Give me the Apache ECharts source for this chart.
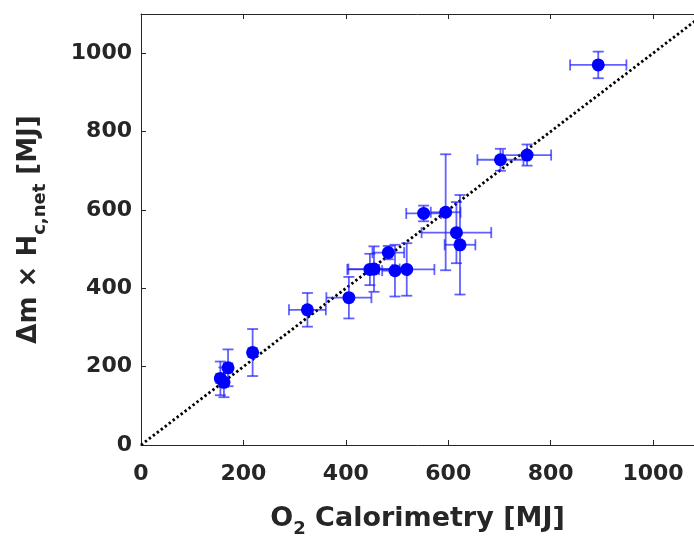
<!DOCTYPE html>
<html><head><meta charset="utf-8">
<script src="https://cdn.jsdelivr.net/npm/echarts@6/dist/echarts.min.js"></script>
<style>html,body{margin:0;padding:0;background:#fff}#c{width:694px;height:539px}</style>
</head><body><div id="c"></div>
<script>
// ---- data ----
const xTickLabels = ['0','200','400','600','800','1000'];
const yTickLabels = ['0','200','400','600','800','1000'];
const o2Calorimetry = [893, 754, 702, 595, 552, 616, 623, 406, 447, 455, 483, 496, 519, 325, 218, 170, 155, 162];
const massHeat      = [970, 740, 728, 594, 591, 542, 511, 376, 448, 449, 491, 445, 448, 345, 236, 197, 170, 160];
const o2Err         = [55,  47,  45,  29,  34,  68,  30,  44,  44,  50,  31,  25,  54,  36,  8,   8,   8,   8];
const massHeatErr   = [34,  27,  28,  148, 20,  78,  127, 53,  40,  58,  17,  66,  67,  43,  60,  47,  43,  38];
const identityLine  = [[0, 0], [1100, 1100]];

const points = o2Calorimetry.map((x, i) => [x, massHeat[i]]);
const errData = o2Calorimetry.map((x, i) => [x, massHeat[i], o2Err[i], massHeatErr[i]]);

const FONT = 'DejaVu Sans';
const TXT = '#262626';
const ERR = 'rgba(30,30,255,0.7)';

const chart = echarts.init(document.getElementById('c'), null, {renderer: 'canvas'});
const axisCommon = {
  type: 'value', min: 0, interval: 200,
  splitLine: {show: false},
  axisLine: {show: true, onZero: false, lineStyle: {color: TXT, width: 1}},
  axisTick: {show: true, inside: true, length: 5, lineStyle: {color: TXT, width: 1}},
};
chart.setOption({
  animation: false,
  backgroundColor: '#fff',
  grid: {left: 141, right: 0, top: 14, bottom: 94, containLabel: false, outerBoundsMode: 'none'},
  xAxis: [
    Object.assign({}, axisCommon, {
      max: 1080, position: 'bottom',
      axisLabel: {margin: 18, fontFamily: FONT, fontWeight: 'bold', fontSize: 22, color: TXT,
        formatter: (v) => xTickLabels[Math.round(v / 200)] ?? ''},
      name: '{m|O}{s|2}{m| Calorimetry [MJ]}',
      nameLocation: 'middle', nameGap: 60,
      nameTextStyle: {
        rich: {
          m: {fontFamily: FONT, fontWeight: 'bold', fontSize: 27, color: TXT, verticalAlign: 'bottom', padding: [0, 0, 6, 0]},
          s: {fontFamily: FONT, fontWeight: 'bold', fontSize: 18, color: TXT, verticalAlign: 'bottom'}
        }
      }
    }),
    Object.assign({}, axisCommon, {
      max: 1080, position: 'top', axisLabel: {show: false}
    })
  ],
  yAxis: [
    Object.assign({}, axisCommon, {
      max: 1100, position: 'left',
      axisLabel: {margin: 9, fontFamily: FONT, fontWeight: 'bold', fontSize: 22, color: TXT,
        formatter: (v) => yTickLabels[Math.round(v / 200)] ?? ''},
      name: '{m|\u0394m \u00d7 H}{s|c,net}{m| [MJ]}',
      nameLocation: 'middle', nameGap: 92, nameRotate: 90,
      nameTextStyle: {
        rich: {
          m: {fontFamily: FONT, fontWeight: 'bold', fontSize: 26, color: TXT, verticalAlign: 'bottom', padding: [0, 0, 7, 0]},
          s: {fontFamily: FONT, fontWeight: 'bold', fontSize: 18, color: TXT, verticalAlign: 'bottom'}
        }
      }
    })
  ],
  series: [
    {
      type: 'line', data: identityLine, symbol: 'none', silent: true, z: 1,
      lineStyle: {color: '#000', width: 2.8, type: [2.4, 2.6]}
    },
    {
      type: 'custom', data: errData, z: 2, silent: true,
      encode: {x: 0, y: 1},
      renderItem: function (params, api) {
        const x = api.value(0), y = api.value(1), xe = api.value(2), ye = api.value(3);
        const c = api.coord([x, y]);
        const l = api.coord([x - xe, y]), r = api.coord([x + xe, y]);
        const t = api.coord([x, y + ye]), b = api.coord([x, y - ye]);
        const st = {stroke: ERR, lineWidth: 1.8};
        const cap = 5.5;
        const ln = (x1, y1, x2, y2) => ({type: 'line', shape: {x1, y1, x2, y2}, style: st});
        return {type: 'group', children: [
          ln(l[0], c[1], r[0], c[1]),
          ln(l[0], c[1] - cap, l[0], c[1] + cap),
          ln(r[0], c[1] - cap, r[0], c[1] + cap),
          ln(c[0], t[1], c[0], b[1]),
          ln(c[0] - cap, t[1], c[0] + cap, t[1]),
          ln(c[0] - cap, b[1], c[0] + cap, b[1])
        ]};
      }
    },
    {
      type: 'scatter', data: points, symbol: 'circle', symbolSize: 13, z: 3,
      itemStyle: {color: '#0000ff', opacity: 1}
    }
  ]
});
</script>
</body></html>
